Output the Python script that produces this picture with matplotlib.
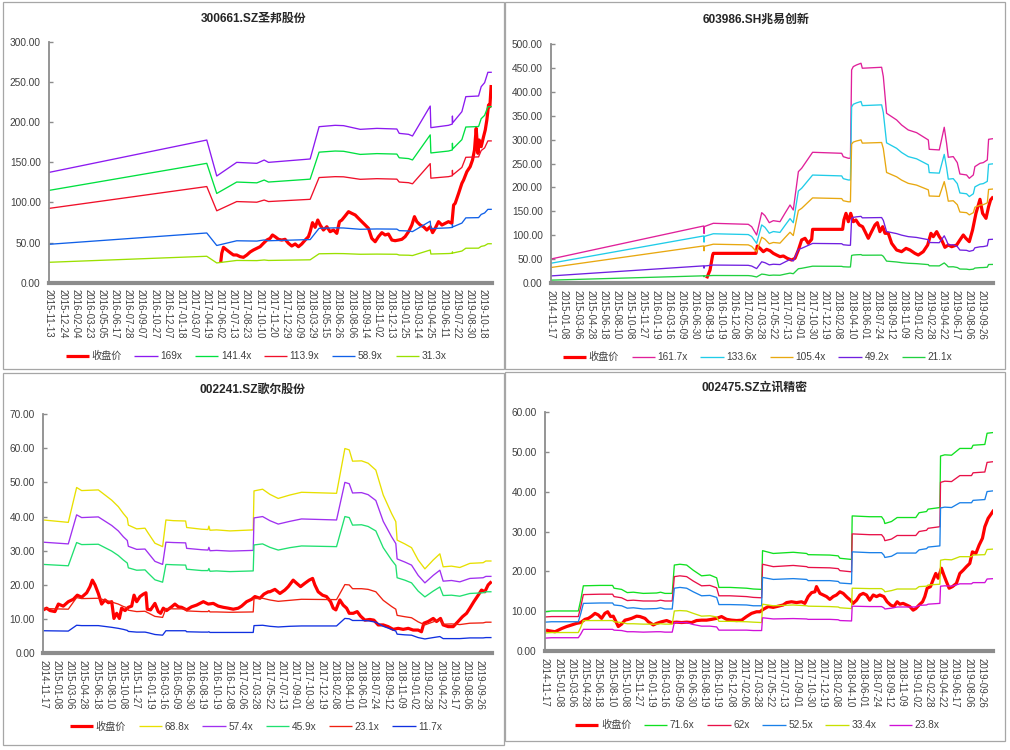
import matplotlib
matplotlib.use("Agg")
import matplotlib.pyplot as plt
from matplotlib.patches import Rectangle
from matplotlib.ticker import FormatStrFormatter
import numpy as np

plt.rcParams['font.family'] = ['Liberation Sans', 'Noto Sans CJK SC', 'DejaVu Sans']

# ---------------- data ----------------
# x values are category positions measured in label intervals (label k sits at x = k)
sb_dates = ['2015-11-13','2015-12-24','2016-02-04','2016-03-23','2016-05-05','2016-06-17','2016-07-28',
            '2016-09-07','2016-10-27','2016-12-07','2017-01-18','2017-03-07','2017-04-19','2017-06-02',
            '2017-07-13','2017-08-23','2017-10-10','2017-11-20','2017-12-29','2018-02-09','2018-03-29',
            '2018-05-15','2018-06-26','2018-08-06','2018-09-14','2018-11-02','2018-12-13','2019-01-25',
            '2019-03-14','2019-04-25','2019-06-11','2019-07-22','2019-08-30','2019-10-18']
dates_14 = ['2014-11-17','2015-01-08','2015-03-06','2015-04-28','2015-06-18','2015-08-10','2015-10-08',
            '2015-11-27','2016-01-19','2016-03-16','2016-05-09','2016-06-30','2016-08-19','2016-10-19',
            '2016-12-08','2017-02-06','2017-03-28','2017-05-22','2017-07-13','2017-09-01','2017-10-30',
            '2017-12-19','2018-02-08','2018-04-10','2018-06-01','2018-07-24','2018-09-12','2018-11-09',
            '2019-01-02','2019-02-28','2019-04-22','2019-06-17','2019-08-06','2019-09-26']

# ---- 300661.SZ 圣邦股份 ----
sb_cx = [13.07,13.15,13.28,13.53,13.79,14.04,14.29,14.55,14.80,15.06,15.31,15.56,15.82,16.07,16.32,16.58,
         16.83,17.01,17.21,17.47,17.72,17.97,18.23,18.48,18.74,18.99,19.24,19.50,19.75,19.88,20.06,20.26,
         20.46,20.64,20.89,21.15,21.40,21.66,21.91,22.11,22.29,22.54,22.80,23.05,23.31,23.56,23.81,24.07,
         24.32,24.57,24.83,25.08,25.34,25.59,25.84,26.10,26.35,26.61,26.86,27.11,27.37,27.62,27.82,28.00,
         28.26,28.51,28.76,29.02,29.20,29.40,29.65,29.91,30.16,30.41,30.67,30.80,30.92,31.18,31.43,31.56,
         31.81,32.06,32.24,32.39,32.52,32.65,32.75,32.90,33.08,33.21,33.33,33.46,33.56,33.66]
sb_close = [24.9,36.5,44.0,40.7,37.4,34.5,34.5,32.4,31.6,34.5,38.2,40.7,42.8,44.8,49.0,53.1,55.2,59.4,57.3,
            54.0,53.1,54.0,49.0,45.7,48.2,44.8,48.2,53.1,57.3,63.5,74.7,68.9,78.0,71.8,65.6,69.7,63.5,65.6,
            61.4,76.0,78.0,83.0,88.4,86.3,84.3,80.1,76.0,71.8,67.7,55.2,51.0,57.3,62.3,59.4,60.6,53.1,52.3,
            53.1,54.0,57.3,63.5,71.8,82.2,76.0,71.8,69.7,65.6,69.7,62.3,67.7,76.0,71.8,73.9,76.0,73.9,96.7,
            98.8,111.2,123.7,127.8,138.2,144.4,152.7,165.2,192.1,161.0,177.6,169.3,181.8,190.1,202.5,221.2,
            219.1,246.1]
sb_bx = [0,12.01,12.77,14.29,15.82,16.38,16.71,19.88,20.56,21.78,22.42,23.69,24.96,26.48,26.66,27.37,27.67,
         29.02,29.07,30.41,30.70,30.71,30.73,31.43,31.73,32.70,32.90,33.16,33.41,33.71]
sb_169 = [137.3,177.6,132.8,149.8,148.6,152.7,149.8,154.0,194.2,195.9,195.5,190.9,192.1,191.3,185.9,184.7,
          182.6,219.9,193.0,195.9,197.5,207.5,199.0,212.9,231.6,232.4,244.0,249.0,261.9,261.9]
sb_141 = [114.9,148.6,111.1,125.3,124.3,127.8,125.3,128.9,162.5,163.9,163.6,159.7,160.7,160.1,155.5,154.5,
          152.8,184.0,161.5,163.9,165.2,173.6,166.5,178.1,193.8,194.4,204.2,208.3,219.1,219.1]
sb_113 = [92.5,119.7,89.5,101.0,100.2,102.9,101.0,103.8,130.9,132.0,131.8,128.7,129.5,128.9,125.3,124.5,
          123.1,148.2,130.1,132.0,133.1,139.9,134.1,143.5,156.1,156.6,164.5,167.8,176.5,176.5]
sb_58 = [47.8,61.9,46.3,52.2,51.8,53.2,52.2,53.7,67.7,68.3,68.1,66.5,66.9,66.7,64.8,64.4,63.6,76.6,67.3,
         68.3,68.8,72.3,69.4,74.2,80.7,81.0,85.0,86.8,91.3,91.3]
sb_31 = [25.4,32.9,24.6,27.7,27.5,28.3,27.7,28.5,36.0,36.3,36.2,35.4,35.6,35.4,34.4,34.2,33.8,40.7,35.7,
         36.3,36.6,38.4,36.9,39.4,42.9,43.0,45.2,46.1,48.5,48.5]

# ---- 603986.SH 兆易创新 ----
zy_cx = [11.93,12.19,12.39,12.44,15.71,15.81,16.02,16.27,16.53,16.78,17.04,17.29,17.55,17.81,18.11,18.44,
         18.70,18.96,19.21,19.47,19.72,19.98,20.05,22.35,22.45,22.61,22.79,22.97,23.17,23.37,23.63,23.88,
         24.11,24.32,24.57,24.83,25.01,25.21,25.42,25.60,25.85,26.11,26.49,26.87,27.21,27.51,27.89,28.15,
         28.53,28.87,29.12,29.30,29.56,29.76,29.94,30.19,30.45,30.71,31.09,31.34,31.60,31.80,32.06,32.31,
         32.57,32.88,33.08,33.34,33.54,33.69,33.90]
zy_close = [10.3,27.7,59.0,62.5,62.5,77.8,73.0,66.0,70.9,68.1,62.5,59.0,55.6,57.0,52.1,48.6,52.1,69.5,90.4,
            93.9,83.4,91.8,112.6,112.6,132.1,146.0,128.6,146.0,128.6,132.1,121.7,118.2,105.7,93.9,107.8,
            121.7,126.5,107.8,118.2,104.3,104.3,83.4,69.5,66.0,72.9,69.5,62.5,59.0,66.0,79.9,104.3,97.3,
            107.8,97.3,90.4,75.1,79.9,76.4,79.9,90.4,100.8,93.9,86.9,111.2,146.0,175.3,146.0,135.6,160.0,
            173.9,180.8]
zy_bx = [0,11.70,11.73,11.76,12.44,15.12,15.38,15.76,16.15,16.40,16.73,17.04,17.55,17.93,18.32,18.57,18.96,
         19.21,20.05,22.28,22.40,22.79,22.95,23.04,23.17,23.42,23.76,23.86,25.34,25.47,25.72,26.49,26.87,
         27.38,28.02,28.92,28.99,29.76,30.14,30.32,30.45,30.83,31.14,31.34,31.85,32.06,32.37,32.49,32.88,
         33.13,33.44,33.54,33.90]
zy_161 = [50.7,119.6,104.0,118.5,125.2,123.1,118.2,100.8,147.4,141.2,126.5,130.7,128.6,146.0,163.4,153.0,
          233.0,240.0,273.4,271.3,264.3,260.9,261.0,445.3,452.2,455.7,459.2,448.8,450.8,431.4,354.8,340.9,
          330.4,320.0,314.4,299.1,279.6,278.3,325.6,292.2,263.0,264.4,251.8,228.1,226.1,219.1,226.1,243.5,
          250.4,251.8,257.4,300.5,301.9]
zy_133 = [41.9,98.8,85.9,97.9,103.4,101.7,97.7,83.3,121.8,116.7,104.5,108.0,106.2,120.6,135.0,126.4,192.5,
          198.3,225.9,224.1,218.4,215.6,215.6,367.9,373.6,376.5,379.4,370.8,372.4,356.4,293.1,281.7,273.0,
          264.4,259.8,247.1,231.0,229.9,269.0,241.4,217.3,218.4,208.0,188.5,186.8,181.0,186.8,201.2,206.9,
          208.0,212.7,248.3,249.4]
zy_105 = [33.0,78.0,67.8,77.2,81.6,80.2,77.0,65.7,96.1,92.0,82.5,85.2,83.8,95.2,106.5,99.7,151.9,156.4,
          178.2,176.8,172.3,170.1,170.1,290.2,294.7,297.0,299.3,292.5,293.8,281.2,231.3,222.2,215.4,208.6,
          204.9,195.0,182.2,181.4,212.2,190.5,171.4,172.3,164.1,148.7,147.4,142.8,147.4,158.7,163.2,164.1,
          167.8,195.9,196.8]
zy_49 = [15.4,36.4,31.6,36.1,38.1,37.5,36.0,30.7,44.9,43.0,38.5,39.8,39.1,44.4,49.7,46.6,70.9,73.0,83.2,
         82.6,80.4,79.4,79.4,135.5,137.6,138.7,139.7,136.6,137.2,131.3,108.0,103.7,100.5,97.4,95.7,91.0,
         85.1,84.7,99.1,88.9,80.0,80.5,76.6,69.4,68.8,66.7,68.8,74.1,76.2,76.6,78.3,91.4,91.9]
zy_21 = [6.6,15.6,13.6,15.5,16.3,16.1,15.4,13.2,19.2,18.4,16.5,17.1,16.8,19.1,21.3,20.0,30.4,31.3,35.7,
         35.4,34.5,34.0,34.1,58.1,59.0,59.5,59.9,58.6,58.8,56.3,46.3,44.5,43.1,41.8,41.0,39.0,36.5,36.3,
         42.5,38.1,34.3,34.5,32.9,29.8,29.5,28.6,29.5,31.8,32.7,32.9,33.6,39.2,39.4]

# ---- 002241.SZ 歌尔股份 ----
ge_cx = [0.00,0.25,0.51,0.88,1.14,1.51,1.89,2.27,2.57,2.90,3.28,3.53,3.71,3.91,4.16,4.41,4.66,4.92,5.17,
         5.34,5.55,5.75,5.92,6.18,6.43,6.68,6.86,7.06,7.31,7.56,7.76,7.86,8.11,8.44,8.69,8.87,9.07,9.32,
         9.70,9.95,10.21,10.46,10.84,11.21,11.59,12.10,12.47,12.85,13.23,13.61,13.99,14.36,14.74,14.99,
         15.37,15.75,16.00,16.38,16.68,17.01,17.13,17.51,17.89,18.26,18.52,18.89,19.15,19.45,19.78,20.10,
         20.36,20.53,20.78,21.11,21.41,21.72,21.92,22.12,22.42,22.67,22.93,23.13,23.43,23.73,23.98,24.31,
         24.69,24.99,25.32,25.70,26.07,26.45,26.83,27.21,27.59,27.96,28.34,28.59,28.77,29.10,29.48,29.73,
         30.03,30.23,30.61,30.99,31.36,31.69,32.00,32.25,32.55,32.88,33.13,33.38,33.63,33.89]
ge_close = [12.7,13.2,12.5,12.2,14.4,13.8,15.1,15.8,17.0,16.4,17.7,19.5,21.4,20.0,17.5,14.4,15.6,14.8,15.1,
            10.2,11.7,10.2,13.2,12.5,13.45,13.8,17.0,15.1,16.6,17.3,17.7,12.9,12.7,14.6,12.2,11.7,13.2,12.5,
            13.6,14.4,13.6,13.45,12.7,13.6,14.1,15.1,14.4,14.6,13.8,13.45,13.2,12.9,13.2,13.8,15.1,15.8,
            16.6,16.1,17.3,18.0,18.0,18.7,17.5,18.5,19.5,21.4,20.5,19.5,20.5,21.4,21.9,20.0,18.0,17.0,16.6,
            15.1,13.2,12.7,15.6,14.1,13.2,11.7,11.7,12.2,10.9,9.7,9.9,9.7,8.3,8.3,7.8,7.0,7.3,7.0,7.3,6.8,
            6.8,6.3,8.8,9.3,10.2,9.3,10.2,8.3,7.8,7.8,9.3,10.7,11.7,13.2,15.1,17.0,18.5,18.0,20.0,21.0]
ge_bx = [0.00,1.89,2.52,2.90,4.16,5.17,5.67,6.05,6.35,6.43,7.06,7.69,7.94,8.44,9.02,9.27,9.83,10.76,10.84,
         11.97,12.45,12.52,12.60,13.10,14.11,15.87,15.93,16.58,17.13,17.76,18.64,19.52,22.17,22.80,23.13,
         23.38,24.06,24.56,25.14,25.70,26.33,26.65,26.75,27.33,27.84,28.34,28.85,29.48,29.98,30.23,30.86,
         31.49,32.25,33.25,33.46,33.89]
ge_68 = [39.0,38.3,48.5,47.6,47.8,44.8,42.9,40.9,39.5,37.5,36.4,36.6,35.1,32.2,31.2,39.0,38.8,38.7,36.8,
         36.3,36.2,37.2,36.0,36.1,35.8,36.1,47.5,48.0,46.5,45.3,46.3,47.1,46.8,59.9,59.5,56.2,56.3,55.6,
         53.6,46.3,40.9,38.5,33.1,32.0,30.9,27.3,24.7,27.3,29.1,25.3,25.5,25.1,26.3,26.5,27.0,27.0]
ge_57 = [32.5,32.0,40.5,39.7,39.9,37.4,35.8,34.1,33.0,31.3,30.4,30.5,29.3,26.9,26.0,32.5,32.4,32.3,30.7,
         30.3,30.2,31.0,30.0,30.1,29.9,30.1,39.6,40.0,38.8,37.8,38.6,39.3,39.0,50.0,49.6,46.9,47.0,46.4,
         44.7,38.6,34.1,32.1,27.6,26.7,25.8,22.8,20.6,22.8,24.3,21.1,21.3,20.9,21.9,22.1,22.5,22.5]
ge_45 = [26.0,25.6,32.4,31.8,31.9,29.9,28.6,27.3,26.4,25.0,24.3,24.4,23.4,21.5,20.8,26.0,25.9,25.8,24.6,
         24.2,24.2,24.8,24.0,24.1,23.9,24.1,31.7,32.0,31.0,30.2,30.9,31.4,31.2,40.0,39.7,37.5,37.6,37.1,
         35.8,30.9,27.3,25.7,22.1,21.4,20.6,18.2,16.5,18.2,19.4,16.9,17.0,16.7,17.5,17.7,18.0,18.0]
ge_23 = [13.1,12.9,16.3,16.0,16.1,15.0,14.4,13.7,13.3,12.6,12.2,12.3,11.8,10.8,10.5,13.1,13.0,13.0,12.4,
         12.2,12.2,12.5,12.1,12.1,12.0,12.1,16.0,16.1,15.6,15.2,15.5,15.8,15.7,20.1,20.0,18.9,18.9,18.7,
         18.0,15.5,13.7,12.9,11.1,10.7,10.4,9.2,8.3,9.2,9.8,8.5,8.6,8.4,8.8,8.9,9.1,9.1]
ge_11 = [6.6,6.5,8.2,8.1,8.1,7.6,7.3,7.0,6.7,6.4,6.2,6.2,6.0,5.5,5.3,6.6,6.6,6.6,6.3,6.2,6.2,6.3,6.1,6.1,
         6.1,6.1,8.1,8.2,7.9,7.7,7.9,8.0,8.0,10.2,10.1,9.6,9.6,9.5,9.1,7.9,7.0,6.5,5.6,5.4,5.3,4.6,4.2,
         4.6,4.9,4.3,4.3,4.3,4.5,4.5,4.6,4.6]

# ---- 002475.SZ 立讯精密 ----
lx_cx = [0.08,0.38,0.76,1.01,1.26,1.64,2.02,2.39,2.70,3.02,3.28,3.53,3.78,4.03,4.28,4.53,4.74,4.96,5.16,
         5.37,5.54,5.79,6.05,6.30,6.55,6.93,7.18,7.56,7.81,8.19,8.44,8.82,9.20,9.57,9.95,10.33,10.71,11.09,
         11.46,11.84,12.22,12.60,12.98,13.35,13.73,14.11,14.49,14.87,15.24,15.62,16.00,16.25,16.50,16.88,
         17.26,17.64,18.01,18.27,18.64,19.02,19.40,19.65,19.90,20.16,20.41,20.53,20.79,21.04,21.29,21.54,
         21.79,22.04,22.30,22.55,22.85,23.10,23.30,23.56,23.81,24.06,24.31,24.56,24.82,25.07,25.32,25.62,
         25.87,26.13,26.38,26.63,26.83,27.08,27.34,27.59,27.84,28.04,28.29,28.55,28.72,28.90,29.15,29.35,
         29.55,29.73,29.98,30.16,30.36,30.56,30.81,31.11,31.37,31.62,31.87,32.12,32.32,32.58,32.83,33.08,
         33.26,33.51,33.76,33.94]
lx_close = [5.3,5.1,4.9,5.3,5.7,6.2,6.6,7.0,7.2,8.0,8.25,8.8,9.5,9.1,8.25,9.5,9.9,8.7,8.8,7.4,6.2,6.8,7.8,
            8.0,8.25,8.8,8.7,8.25,7.4,6.6,7.0,7.4,7.7,7.2,7.3,7.2,7.3,7.2,7.7,7.8,7.8,8.0,8.25,8.7,8.0,7.8,
            7.7,7.8,8.7,9.5,9.9,9.9,10.5,11.2,11.0,11.3,11.6,12.2,12.4,12.2,12.4,12.0,13.7,14.7,14.9,16.2,
            14.5,14.1,13.7,13.0,13.7,14.1,14.9,14.5,13.5,12.8,12.0,12.8,14.1,14.5,14.1,12.8,14.1,13.7,14.1,
            13.7,12.4,11.6,11.2,12.4,11.8,12.0,11.6,11.2,10.3,10.7,11.6,12.4,13.7,15.8,16.2,17.9,19.5,18.3,
            20.8,19.1,17.4,15.8,16.2,17.0,19.5,20.3,21.2,22.0,24.9,24.5,26.6,28.3,31.2,33.3,34.5,35.4]
lx_bx = [0.00,0.50,2.52,2.70,2.90,4.16,5.11,5.22,5.79,6.22,6.68,7.43,8.44,8.74,9.07,9.62,9.78,10.20,10.71,
         11.21,11.84,12.47,12.98,13.15,13.98,15.24,15.75,16.38,16.45,17.26,18.77,19.78,19.90,21.54,22.17,
         22.30,23.18,23.23,24.56,25.45,25.62,25.70,26.20,26.63,28.04,28.29,28.85,28.97,29.86,29.91,30.23,
         30.74,31.37,32.25,32.37,33.26,33.43,33.94]
lx_71 = [9.9,10.1,10.1,12.8,16.4,16.5,16.5,15.8,15.5,14.7,14.8,14.5,14.6,14.8,14.5,14.5,21.6,21.8,21.6,
         20.3,18.9,19.1,18.4,16.0,16.0,15.8,15.6,15.5,25.2,24.5,24.8,24.5,24.2,24.1,23.9,23.3,23.0,33.9,
         33.7,33.7,32.9,32.0,32.5,33.5,33.5,34.7,35.0,35.6,36.0,48.9,49.2,49.1,50.8,50.8,51.6,51.8,54.6,54.8]
lx_62 = [8.6,8.7,8.7,11.1,14.2,14.3,14.3,13.7,13.4,12.7,12.8,12.6,12.6,12.8,12.6,12.6,18.7,18.9,18.7,17.6,
         16.4,16.5,15.9,13.9,13.9,13.7,13.5,13.4,21.8,21.2,21.5,21.2,21.0,20.9,20.7,20.2,19.9,29.4,29.2,
         29.2,28.5,27.7,28.1,29.0,29.0,30.0,30.3,30.8,31.2,42.3,42.6,42.5,44.0,44.0,44.7,44.9,47.3,47.5]
lx_52 = [7.3,7.4,7.4,9.4,12.0,12.1,12.1,11.6,11.4,10.8,10.9,10.6,10.7,10.9,10.6,10.6,15.8,16.0,15.8,14.9,
         13.9,14.0,13.5,11.7,11.7,11.6,11.4,11.4,18.5,18.0,18.2,18.0,17.7,17.7,17.5,17.1,16.9,24.9,24.7,
         24.7,24.1,23.5,23.8,24.6,24.6,25.4,25.7,26.1,26.4,35.9,36.1,36.0,37.2,37.2,37.8,38.0,40.0,40.2]
lx_33 = [4.6,4.7,4.7,6.0,7.7,7.7,7.7,7.4,7.2,6.9,6.9,6.8,6.8,6.9,6.8,6.8,10.1,10.2,10.1,9.5,8.8,8.9,8.6,
         7.5,7.5,7.4,7.3,7.2,11.8,11.4,11.6,11.4,11.3,11.2,11.1,10.9,10.7,15.8,15.7,15.7,15.3,14.9,15.2,
         15.6,15.6,16.2,16.3,16.6,16.8,22.8,23.0,22.9,23.7,23.7,24.1,24.2,25.5,25.6]
lx_23 = [3.3,3.4,3.4,4.3,5.5,5.5,5.5,5.3,5.2,4.9,4.9,4.8,4.9,4.9,4.8,4.8,7.2,7.2,7.2,6.7,6.3,6.3,6.1,5.3,
         5.3,5.3,5.2,5.2,8.4,8.1,8.2,8.1,8.0,8.0,7.9,7.7,7.6,11.3,11.2,11.2,10.9,10.6,10.8,11.1,11.1,11.5,
         11.6,11.8,12.0,16.3,16.4,16.3,16.9,16.9,17.2,17.2,18.1,18.2]

# ---------------- drawing ----------------
W, H = 1010, 750
fig = plt.figure(figsize=(W / 100, H / 100), dpi=100)
fig.patch.set_facecolor('white')

AXC = '#8c8c8c'
TXT = '#404040'
CLOSE_LW = 2.3
BAND_LW = 0.95


def panel(frame, plot, ymax, ystep, xmax, dates, title, title_xy, legend_xy, series):
    x0, y0, x1, y1 = frame
    fig.add_artist(Rectangle((x0 / W, 1 - y1 / H), (x1 - x0) / W, (y1 - y0) / H,
                             transform=fig.transFigure, fill=False, ec='#a6a6a6', lw=0.9))
    l, t, r, b = plot
    ax = fig.add_axes([l / W, 1 - b / H, (r - l) / W, (b - t) / H])
    for name, xs, ys, color, lw in series:
        ax.plot(xs, ys, color=color, lw=lw, label=name, solid_joinstyle='round',
                solid_capstyle='butt')
    ax.set_xlim(0, xmax)
    ax.set_ylim(0, ymax)
    ax.set_yticks(np.arange(0, ymax + ystep / 2, ystep))
    ax.yaxis.set_major_formatter(FormatStrFormatter('%.2f'))
    ax.set_xticks(range(len(dates)))
    ax.set_xticklabels(dates, rotation=-90, fontsize=6.9, color=TXT)
    ax.tick_params(axis='x', length=0, pad=4.5)
    ax.tick_params(axis='y', direction='in', length=3, width=1, color=AXC,
                   labelsize=7.3, labelcolor=TXT, pad=6)
    for s in ('top', 'right'):
        ax.spines[s].set_visible(False)
    ax.spines['left'].set_color(AXC)
    ax.spines['left'].set_linewidth(1.3)
    ax.spines['bottom'].set_color(AXC)
    ax.spines['bottom'].set_linewidth(3.0)
    ax.set_facecolor('none')
    fig.text(title_xy[0] / W, 1 - title_xy[1] / H, title, ha='center', va='center',
             fontsize=8.6, fontweight='bold', color='#262626')
    leg = ax.legend(loc='center', bbox_to_anchor=(legend_xy[0] / W, 1 - legend_xy[1] / H),
                    bbox_transform=fig.transFigure, ncol=len(series), frameon=False,
                    fontsize=7.3, handlelength=2.3, handletextpad=0.25, columnspacing=1.25,
                    borderaxespad=0, borderpad=0)
    for tx in leg.get_texts():
        tx.set_color(TXT)
    return ax


panel((3, 2, 504, 369), (49, 41.7, 491.7, 282.7), 300, 50, 33.7, sb_dates,
      '300661.SZ圣邦股份', (253.5, 19), (256, 356),
      [('收盘价', sb_cx, sb_close, '#ff0000', CLOSE_LW),
       ('169x', sb_bx, sb_169, '#8c1af0', BAND_LW),
       ('141.4x', sb_bx, sb_141, '#00e040', BAND_LW),
       ('113.9x', sb_bx, sb_113, '#f0102a', BAND_LW),
       ('58.9x', sb_bx, sb_58, '#1060e8', BAND_LW),
       ('31.3x', sb_bx, sb_31, '#9be000', BAND_LW)])

panel((505, 2, 1005, 369), (551, 43.7, 993.3, 283.3), 500, 50, 33.9, dates_14,
      '603986.SH兆易创新', (756, 20), (757.5, 357),
      [('收盘价', zy_cx, zy_close, '#ff0000', CLOSE_LW),
       ('161.7x', zy_bx, zy_161, '#e0209a', BAND_LW),
       ('133.6x', zy_bx, zy_133, '#20cce8', BAND_LW),
       ('105.4x', zy_bx, zy_105, '#e8a810', BAND_LW),
       ('49.2x', zy_bx, zy_49, '#7020e0', BAND_LW),
       ('21.1x', zy_bx, zy_21, '#20d040', BAND_LW)])

panel((3, 373, 504, 745), (43.3, 414, 491.7, 653.3), 70, 10, 33.9, dates_14,
      '002241.SZ歌尔股份', (253, 390), (256, 726.5),
      [('收盘价', ge_cx, ge_close, '#ff0000', CLOSE_LW),
       ('68.8x', ge_bx, ge_68, '#e8e000', BAND_LW),
       ('57.4x', ge_bx, ge_57, '#a030f0', BAND_LW),
       ('45.9x', ge_bx, ge_45, '#20e070', BAND_LW),
       ('23.1x', ge_bx, ge_23, '#f02010', BAND_LW),
       ('11.7x', ge_bx, ge_11, '#1030e0', BAND_LW)])

panel((505, 372, 1005, 741), (545, 411.7, 993.3, 651.3), 60, 10, 33.9, dates_14,
      '002475.SZ立讯精密', (755, 388), (757.5, 725),
      [('收盘价', lx_cx, lx_close, '#ff0000', CLOSE_LW),
       ('71.6x', lx_bx, lx_71, '#10e020', BAND_LW),
       ('62x', lx_bx, lx_62, '#e81048', BAND_LW),
       ('52.5x', lx_bx, lx_52, '#1a80e8', BAND_LW),
       ('33.4x', lx_bx, lx_33, '#c8e000', BAND_LW),
       ('23.8x', lx_bx, lx_23, '#d010d8', BAND_LW)])

fig.savefig('out.png', dpi=100, facecolor='white')
